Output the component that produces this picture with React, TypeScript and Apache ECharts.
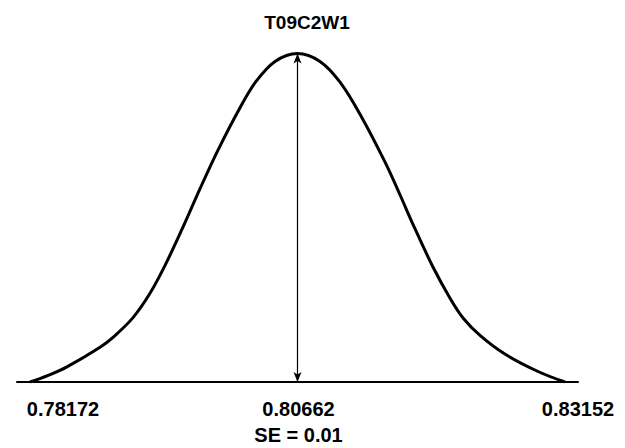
import React, { useEffect, useRef } from "react";
import * as echarts from "echarts";

const TITLE = "T09C2W1";
const MEAN = 0.80662;
const SE_LABEL = "SE = 0.01";
const TICK_VALUES = [0.78172, 0.80662, 0.83152];
const TICK_LABELS = ["0.78172", "0.80662", "0.83152"];

// Curve: x in data units, y as % of peak height
const CURVE_X = [
  0.78172, 0.78342, 0.78516, 0.78824, 0.78945, 0.79131, 0.79289, 0.79429, 0.79587,
  0.79754, 0.79922, 0.80127, 0.80276, 0.80453, 0.80662, 0.80871, 0.81058, 0.81253,
  0.81476, 0.81616, 0.81737, 0.81923, 0.82082, 0.82203, 0.82361, 0.82593, 0.82901,
  0.83152,
];
const CURVE_Y = [
  0, 2.0, 4.6, 10.6, 13.6, 19.6, 27.0, 35.5, 46.5,
  58.8, 70.6, 83.5, 91.5, 97.6, 100, 97.6, 91.3, 81.0,
  67.0, 57.0, 48.0, 35.0, 25.5, 19.5, 14.2, 8.5, 3.2,
  0,
];
const PEAK = 100;

export default function App() {
  const ref = useRef<HTMLDivElement>(null);
  useEffect(() => {
    document.body.style.margin = "0";
    const chart = echarts.init(ref.current!, null, { renderer: "svg" });
    const font = "'Liberation Sans', Arial, Helvetica, sans-serif";
    chart.setOption({
      animation: false,
      backgroundColor: "#fff",
      title: {
        text: TITLE,
        left: 302,
        top: 8,
        textAlign: "center",
        textStyle: { fontSize: 19, fontWeight: "bold", fontFamily: font, color: "#000" },
      },
      grid: { left: 17, right: 47, top: 53.5, bottom: 66, containLabel: false, outerBoundsMode: "none" },
      xAxis: {
        type: "value",
        min: 0.78051,
        max: 0.83273,
        splitLine: { show: false },
        axisTick: { show: false },
        axisLine: { lineStyle: { color: "#000", width: 2 } },
        axisLabel: {
          customValues: TICK_VALUES,
          margin: 14,
          hideOverlap: false,
          formatter: (v: number) => {
            const i = TICK_VALUES.findIndex((t) => Math.abs(t - v) < 1e-7);
            if (i === 0) return `{l|${TICK_LABELS[0]}}`;
            if (i === 1) return `{c|${TICK_LABELS[1]}}\n{c|${SE_LABEL}}`;
            if (i === 2) return `{r|${TICK_LABELS[2]}}`;
            return "";
          },
          rich: {
            l: { fontSize: 20, fontWeight: "bold", fontFamily: font, color: "#000", lineHeight: 26, padding: [0, 0, 0, 66] },
            c: { fontSize: 20, fontWeight: "bold", fontFamily: font, color: "#000", lineHeight: 26, padding: [0, 0, 0, 2] },
            r: { fontSize: 20, fontWeight: "bold", fontFamily: font, color: "#000", lineHeight: 26, padding: [0, 0, 0, 26] },
          },
        },
      },
      yAxis: {
        type: "value",
        min: 0,
        max: PEAK,
        show: false,
      },
      series: [
        {
          type: "line",
          data: CURVE_X.map((x, i) => [x, CURVE_Y[i]]),
          smooth: 0.35,
          showSymbol: false,
          lineStyle: { color: "#000", width: 3 },
          silent: true,
          markLine: {
            silent: true,
            symbol: ["arrow", "arrow"],
            symbolSize: [6, 10],
            label: { show: false },
            lineStyle: { color: "#000", width: 1.2, type: "solid" },
            data: [[{ coord: [MEAN, 0] }, { coord: [MEAN, PEAK] }]],
          },
        },
      ],
    });
    return () => chart.dispose();
  }, []);
  return <div ref={ref} style={{ width: 625, height: 448 }} />;
}
